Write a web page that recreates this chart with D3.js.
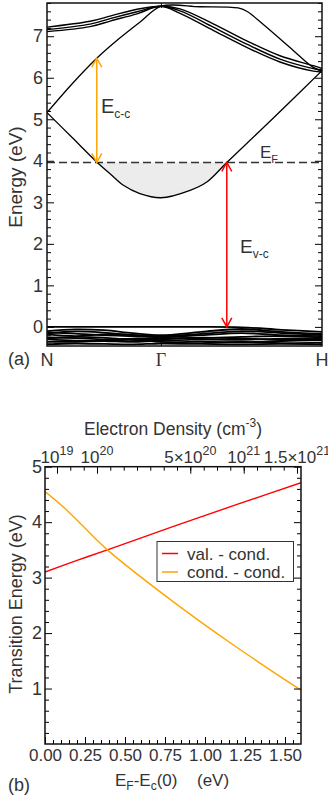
<!DOCTYPE html>
<html>
<head>
<meta charset="utf-8">
<script src="https://cdn.jsdelivr.net/npm/d3@7"></script>
<style>
body { margin: 0; background: #fff; }
svg { display: block; }
text { font-family: "Liberation Sans", Arial, sans-serif; fill: #333; }
</style>
</head>
<body>
<svg width="328" height="798"></svg>
<script>
// ---------- panel (a): bands along N - Gamma - H ----------
var kTicks = [0, 0.707, 1.707];
var kLabels = ["N", "Γ", "H"];
var energyTicks = [0, 1, 2, 3, 4, 5, 6, 7];
var fermiLevel = 3.96;

// lower conduction branch
var c1K = [0, 0.156, 0.312, 0.391, 0.474, 0.577, 0.707, 0.888, 0.992, 1.116, 1.41, 1.707];
var c1E = [5.16, 4.56, 3.96, 3.69, 3.41, 3.21, 3.11, 3.29, 3.49, 3.96, 5.05, 6.17];
// upper conduction branch
var c2K = [0, 0.155, 0.309, 0.45, 0.58, 0.707, 0.95, 1.186, 1.24, 1.341, 1.508, 1.653, 1.707];
var c2E = [5.16, 5.85, 6.47, 6.95, 7.35, 7.72, 7.71, 7.68, 7.60, 7.29, 6.73, 6.25, 6.17];
// the bundle of flat bands near 7 eV
var dK = [0, 0.267, 0.397, 0.559, 0.707, 0.826, 1.032, 1.24, 1.446, 1.653, 1.707];
var dBands = [
  [7.22, 7.36, 7.49, 7.65, 7.72, 7.66, 7.30, 6.89, 6.53, 6.29, 6.22],
  [7.16, 7.29, 7.43, 7.59, 7.72, 7.61, 7.22, 6.81, 6.45, 6.22, 6.18],
  [7.11, 7.23, 7.37, 7.54, 7.72, 7.55, 7.14, 6.73, 6.38, 6.16, 6.14]
];
// valence bands (top one at 0)
var vK = [0, 0.177, 0.354, 0.53, 0.707, 0.957, 1.207, 1.457, 1.707];
var vBands = [
  [0.00, 0.00, 0.00, 0.00, 0.00, 0.00, -0.01, -0.07, -0.12],
  [-0.10, -0.06, -0.08, -0.15, -0.20, -0.12, -0.05, -0.12, -0.17],
  [-0.13, -0.16, -0.20, -0.22, -0.24, -0.20, -0.15, -0.20, -0.22],
  [-0.16, -0.11, -0.14, -0.20, -0.22, -0.17, -0.10, -0.15, -0.19],
  [-0.18, -0.22, -0.18, -0.19, -0.26, -0.27, -0.24, -0.22, -0.25],
  [-0.25, -0.27, -0.30, -0.28, -0.27, -0.30, -0.31, -0.28, -0.28],
  [-0.28, -0.24, -0.26, -0.31, -0.30, -0.26, -0.28, -0.31, -0.30],
  [-0.30, -0.33, -0.34, -0.36, -0.33, -0.35, -0.37, -0.34, -0.32],
  [-0.36, -0.36, -0.33, -0.31, -0.36, -0.39, -0.36, -0.39, -0.38],
  [-0.42, -0.40, -0.41, -0.42, -0.40, -0.41, -0.42, -0.41, -0.42]
];
// transitions: [k, from, to]
var ccArrow = [0.309, 3.96, 6.47];
var vcArrow = [1.116, 3.96, 0.0];

// ---------- panel (b): transition energies ----------
var efVal = [0, 0.2, 0.39, 0.79, 0.97, 1.2, 1.6];
var valCond = [3.10, 3.31, 3.50, 3.91, 4.09, 4.32, 4.71];
var efCond = [0, 0.135, 0.24, 0.39, 0.79, 1.18, 1.6];
var condCond = [4.55, 4.22, 3.92, 3.50, 2.59, 1.78, 0.97];
var efTicks = [0, 0.25, 0.5, 0.75, 1.0, 1.25, 1.5];
var transTicks = [1, 2, 3, 4, 5];
var densityLabels = ["10^19", "10^20", "5×10^20", "10^21", "1.5×10^21"];
var densityLabelE = [0.075, 0.325, 0.908, 1.242, 1.575];
var densityTickE = [0.075, 0.158, 0.242, 0.325, 0.408, 0.492, 0.575, 0.658, 0.742, 0.825,
                    0.908, 0.992, 1.075, 1.158, 1.242, 1.325, 1.408, 1.492, 1.575];
var seriesNames = ["val. - cond.", "cond. - cond."];
var seriesColors = ["#ff0000", "#ffa500"];

var svg = d3.select("svg");
var curve = d3.line().curve(d3.curveCatmullRom.alpha(0.5));

// ===== panel (a) =====
var xA = d3.scaleLinear().domain([0, 1.707]).range([47, 322]);
var yA = d3.scaleLinear().domain([-0.46, 7.8]).range([346, 3]);

svg.append("clipPath").attr("id", "clipA")
  .append("rect").attr("x", 47).attr("y", 3).attr("width", 275).attr("height", 343);

function bandPath(ks, es) {
  return curve(ks.map(function(k, i) { return [xA(k), yA(es[i])]; }));
}

var plotA = svg.append("g").attr("clip-path", "url(#clipA)");

// filled electron pocket below E_F
var pocket = c1K.map(function(k, i) { return [k, c1E[i]]; })
  .filter(function(d) { return d[0] >= 0.312 && d[0] <= 1.116; });
plotA.append("path")
  .attr("d", d3.area()
    .curve(d3.curveCatmullRom.alpha(0.5))
    .x(function(d) { return xA(d[0]); })
    .y0(yA(fermiLevel))
    .y1(function(d) { return yA(d[1]); })(pocket))
  .attr("fill", "#ececec");

plotA.append("line")
  .attr("x1", xA(0)).attr("x2", xA(1.707))
  .attr("y1", yA(fermiLevel)).attr("y2", yA(fermiLevel))
  .attr("stroke", "#333").attr("stroke-width", 1.4)
  .attr("stroke-dasharray", "8,4");

var bands = [[c1K, c1E, 1.3], [c2K, c2E, 1.3]];
dBands.forEach(function(b) { bands.push([dK, b, 1.4]); });
vBands.forEach(function(b) { bands.push([vK, b, 1.8]); });
plotA.selectAll(".band").data(bands).enter().append("path")
  .attr("class", "band")
  .attr("d", function(d) { return bandPath(d[0], d[1]); })
  .attr("fill", "none").attr("stroke", "#000")
  .attr("stroke-width", function(d) { return d[2]; });

// double-headed arrows with open heads
function arrow(a, color) {
  var x = xA(a[0]), y1 = yA(a[1]), y2 = yA(a[2]);
  var g = svg.append("g").attr("stroke", color).attr("stroke-width", 1.5).attr("fill", "none");
  g.append("line").attr("x1", x).attr("x2", x).attr("y1", y1).attr("y2", y2);
  [[y1, y2], [y2, y1]].forEach(function(p) {
    var tip = p[0], dir = p[1] > p[0] ? 1 : -1;
    g.append("path").attr("d", "M" + (x - 5) + "," + (tip + dir * 9) + "L" + x + "," + tip + "L" + (x + 5) + "," + (tip + dir * 9));
  });
}
arrow(ccArrow, "#ffa500");
arrow(vcArrow, "#ff0000");

// axes (a)
var minorA = d3.range(-0.4, 7.81, 0.2).filter(function(v) { return Math.abs(v - Math.round(v)) > 0.01; });
svg.append("g").attr("transform", "translate(47,0)")
  .call(d3.axisLeft(yA).tickValues(energyTicks).tickSize(-7).tickPadding(4).tickFormat(d3.format("d")))
  .call(function(g) { g.select(".domain").remove(); g.selectAll("text").style("font-size", "18px"); });
svg.append("g").attr("transform", "translate(47,0)")
  .call(d3.axisLeft(yA).tickValues(minorA).tickSize(-4).tickFormat(""))
  .call(function(g) { g.select(".domain").remove(); });
svg.append("g").attr("transform", "translate(322,0)")
  .call(d3.axisRight(yA).tickValues(energyTicks).tickSize(-7).tickFormat(""))
  .call(function(g) { g.select(".domain").remove(); });
svg.append("g").attr("transform", "translate(322,0)")
  .call(d3.axisRight(yA).tickValues(minorA).tickSize(-4).tickFormat(""))
  .call(function(g) { g.select(".domain").remove(); });
svg.append("g").attr("transform", "translate(0,346)")
  .call(d3.axisBottom(xA).tickValues([kTicks[1]]).tickSize(-5).tickFormat(""))
  .call(function(g) { g.select(".domain").remove(); });
svg.append("g").attr("transform", "translate(0,3)")
  .call(d3.axisTop(xA).tickValues([kTicks[1]]).tickSize(-5).tickFormat(""))
  .call(function(g) { g.select(".domain").remove(); });

svg.append("rect").attr("x", 47).attr("y", 3).attr("width", 275).attr("height", 343)
  .attr("fill", "none").attr("stroke", "#111").attr("stroke-width", 1.5);

svg.selectAll(".klab").data(kLabels).enter().append("text")
  .attr("class", "klab")
  .attr("x", function(d, i) { return xA(kTicks[i]); })
  .attr("y", 366)
  .attr("text-anchor", "middle")
  .style("font-size", "18px")
  .style("font-family", function(d) { return d === "Γ" ? "'Liberation Serif', serif" : null; })
  .text(function(d) { return d; });
svg.append("text").attr("x", 8).attr("y", 365).style("font-size", "18px").text("(a)");

svg.append("text")
  .attr("transform", "translate(22,177) rotate(-90)")
  .attr("text-anchor", "middle").style("font-size", "19px").text("Energy (eV)");

function subLabel(x, y, main, sub, size) {
  var t = svg.append("text").attr("x", x).attr("y", y).style("font-size", size + "px");
  t.append("tspan").text(main);
  t.append("tspan").attr("dy", 5).style("font-size", Math.round(size * 0.62) + "px").text(sub);
}
subLabel(101, 113, "E", "c-c", 20);
subLabel(260, 158, "E", "F", 17);
subLabel(240, 253, "E", "v-c", 19);

// ===== panel (b) =====
var xB = d3.scaleLinear().domain([0, 1.6]).range([45, 301]);
var yB = d3.scaleLinear().domain([0, 5]).range([744, 466.7]);

svg.append("clipPath").attr("id", "clipB")
  .append("rect").attr("x", 45).attr("y", 466.7).attr("width", 256).attr("height", 277.3);
var plotB = svg.append("g").attr("clip-path", "url(#clipB)");

var seriesB = [[efVal, valCond], [efCond, condCond]];
plotB.selectAll(".trans").data(seriesB).enter().append("path")
  .attr("class", "trans")
  .attr("d", function(d) {
    return curve(d[0].map(function(e, i) { return [xB(e), yB(d[1][i])]; }));
  })
  .attr("fill", "none")
  .attr("stroke", function(d, i) { return seriesColors[i]; })
  .attr("stroke-width", 1.4);

var minorX = d3.range(0.05, 1.6, 0.05).filter(function(v) { return Math.abs(v / 0.25 - Math.round(v / 0.25)) > 0.01; });
var minorY = d3.range(0.2, 5, 0.2).filter(function(v) { return Math.abs(v - Math.round(v)) > 0.01; });

svg.append("g").attr("transform", "translate(0,744)")
  .call(d3.axisBottom(xB).tickValues(efTicks).tickSize(-7).tickPadding(5).tickFormat(d3.format(".2f")))
  .call(function(g) { g.select(".domain").remove(); g.selectAll("text").style("font-size", "17px"); });
svg.append("g").attr("transform", "translate(0,744)")
  .call(d3.axisBottom(xB).tickValues(minorX).tickSize(-4).tickFormat(""))
  .call(function(g) { g.select(".domain").remove(); });
svg.append("g").attr("transform", "translate(45,0)")
  .call(d3.axisLeft(yB).tickValues(transTicks).tickSize(-7).tickPadding(3).tickFormat(d3.format("d")))
  .call(function(g) { g.select(".domain").remove(); g.selectAll("text").style("font-size", "18px"); });
svg.append("g").attr("transform", "translate(45,0)")
  .call(d3.axisLeft(yB).tickValues(minorY).tickSize(-4).tickFormat(""))
  .call(function(g) { g.select(".domain").remove(); });
svg.append("g").attr("transform", "translate(301,0)")
  .call(d3.axisRight(yB).tickValues(transTicks).tickSize(-7).tickFormat(""))
  .call(function(g) { g.select(".domain").remove(); });
svg.append("g").attr("transform", "translate(301,0)")
  .call(d3.axisRight(yB).tickValues(minorY).tickSize(-4).tickFormat(""))
  .call(function(g) { g.select(".domain").remove(); });

// top axis: electron density
svg.append("g").attr("transform", "translate(0,466.7)")
  .call(d3.axisTop(xB).tickValues(densityTickE).tickSize(-4).tickFormat(""))
  .call(function(g) { g.select(".domain").remove(); });
svg.append("g").attr("transform", "translate(0,466.7)")
  .call(d3.axisTop(xB).tickValues(densityLabelE).tickSize(-7).tickFormat(""))
  .call(function(g) { g.select(".domain").remove(); });
svg.selectAll(".dlab").data(densityLabels).enter().append("text")
  .attr("class", "dlab")
  .attr("x", function(d, i) { return xB(densityLabelE[i]); })
  .attr("y", 463)
  .attr("text-anchor", "middle")
  .style("font-size", "17px")
  .each(function(d) {
    var p = d.split("^"), t = d3.select(this);
    t.append("tspan").text(p[0]);
    t.append("tspan").attr("dy", -8).style("font-size", "12.5px").text(p[1]);
  });

svg.append("rect").attr("x", 45).attr("y", 466.7).attr("width", 256).attr("height", 277.3)
  .attr("fill", "none").attr("stroke", "#111").attr("stroke-width", 1.5);

// legend
var leg = svg.append("g").attr("transform", "translate(157,541.5)");
leg.append("rect").attr("width", 136.5).attr("height", 40)
  .attr("fill", "#fff").attr("stroke", "#333").attr("stroke-width", 1);
seriesNames.forEach(function(name, i) {
  leg.append("line").attr("x1", 5).attr("x2", 21).attr("y1", 12 + i * 18.5).attr("y2", 12 + i * 18.5)
    .attr("stroke", seriesColors[i]).attr("stroke-width", 1.5);
  leg.append("text").attr("x", 30).attr("y", 18 + i * 18.5).style("font-size", "17px").text(name);
});

// titles (b)
var dt = svg.append("text").attr("x", 173).attr("y", 434.5).attr("text-anchor", "middle").style("font-size", "17.5px");
dt.append("tspan").text("Electron Density (cm");
dt.append("tspan").attr("dy", -8).style("font-size", "12px").text("-3");
dt.append("tspan").attr("dy", 8).text(")");

svg.append("text")
  .attr("transform", "translate(22,604) rotate(-90)")
  .attr("text-anchor", "middle").style("font-size", "18px").text("Transition Energy (eV)");

var xt = svg.append("text").attr("x", 115).attr("y", 786).style("font-size", "17px");
xt.append("tspan").text("E");
xt.append("tspan").attr("dy", 4).style("font-size", "12px").text("F");
xt.append("tspan").attr("dy", -4).text("-E");
xt.append("tspan").attr("dy", 4).style("font-size", "12px").text("c");
xt.append("tspan").attr("dy", -4).text("(0)");
svg.append("text").attr("x", 197).attr("y", 786).style("font-size", "17px").text("(eV)");
svg.append("text").attr("x", 8).attr("y", 791).style("font-size", "18px").text("(b)");
</script>
</body>
</html>
